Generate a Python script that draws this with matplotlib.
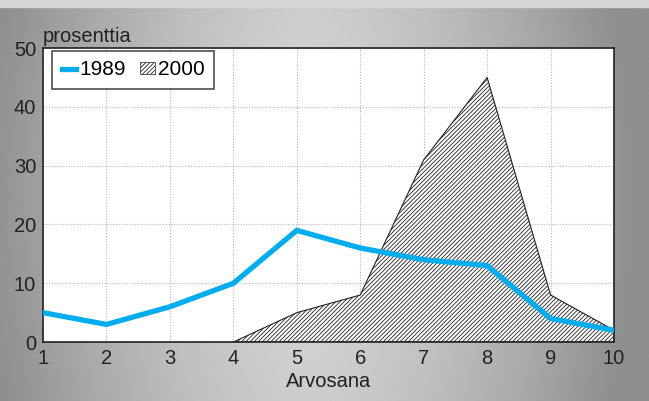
import matplotlib.pyplot as plt
import numpy as np
from matplotlib.lines import Line2D
from matplotlib.patches import Patch

grades = [1, 2, 3, 4, 5, 6, 7, 8, 9, 10]
share_1989 = [5, 3, 6, 10, 19, 16, 14, 13, 4, 2]
grades_2000 = [4, 5, 6, 7, 8, 9, 10]
share_2000 = [0, 5, 8, 31, 45, 8, 2]
yticks = [0, 10, 20, 30, 40, 50]

BLUE = "#00aeef"
plt.rcParams["font.family"] = ["Liberation Sans", "DejaVu Sans"]
plt.rcParams["hatch.linewidth"] = 0.6

fig = plt.figure(figsize=(6.49, 4.01), dpi=100)

# grey gradient backdrop, darker towards the sides
bg = fig.add_axes([0, 0, 1, 1], zorder=-10)
xs = np.linspace(-1, 1, 400)
ys = np.linspace(-1, 1, 250)
X, Y = np.meshgrid(xs, ys)
shade = 0.83 - 0.27 * np.clip(np.abs(X + 0.05) ** 1.5 + 0.1 * Y**2, 0, 1)
bg.imshow(shade, cmap="gray", vmin=0, vmax=1, aspect="auto", extent=[0, 1, 0, 1])
bg.axhspan(0.982, 1.0, color="#d5d6d8")
bg.set_xlim(0, 1)
bg.set_ylim(0, 1)
bg.axis("off")

ax = fig.add_axes([0.0663, 0.147, 0.8798, 0.733])
ax.set_facecolor("white")
ax.fill_between(grades_2000, share_2000, 0, facecolor="white", edgecolor="#222222",
                hatch="////////", linewidth=0.8, zorder=2)
ax.plot(grades, share_1989, color=BLUE, linewidth=3.8, solid_joinstyle="miter", zorder=3)

ax.set_xlim(1, 10)
ax.set_ylim(0, 50)
ax.set_xticks(grades)
ax.set_yticks(yticks)
ax.tick_params(length=0, labelsize=14.5, colors="#222222", pad=5)
ax.grid(True, color="#b5b5b5", linestyle=(0, (1, 1.5)), linewidth=0.8)
ax.set_axisbelow(True)
for s in ax.spines.values():
    s.set_linewidth(1.2)
    s.set_color("#222222")

ax.set_xlabel("Arvosana", fontsize=14.5, color="#222222", labelpad=3)
ax.text(-0.0, 1.008, "prosenttia", transform=ax.transAxes, fontsize=14.5,
        color="#222222", ha="left", va="bottom")

handles = [Line2D([], [], color=BLUE, linewidth=3.8),
           Patch(facecolor="white", edgecolor="#222222", hatch="////////", linewidth=0.5)]
leg = ax.legend(handles, ["1989", "2000"], loc="upper left", ncol=2, fontsize=15,
                bbox_to_anchor=(0.016, 0.99), frameon=True, fancybox=False,
                handlelength=0.7, handleheight=0.55, handletextpad=0.15,
                columnspacing=0.7, borderpad=0.45, borderaxespad=0)
leg.get_frame().set_edgecolor("#222222")
leg.get_frame().set_linewidth(1.2)

fig.savefig("out.png", dpi=100)
